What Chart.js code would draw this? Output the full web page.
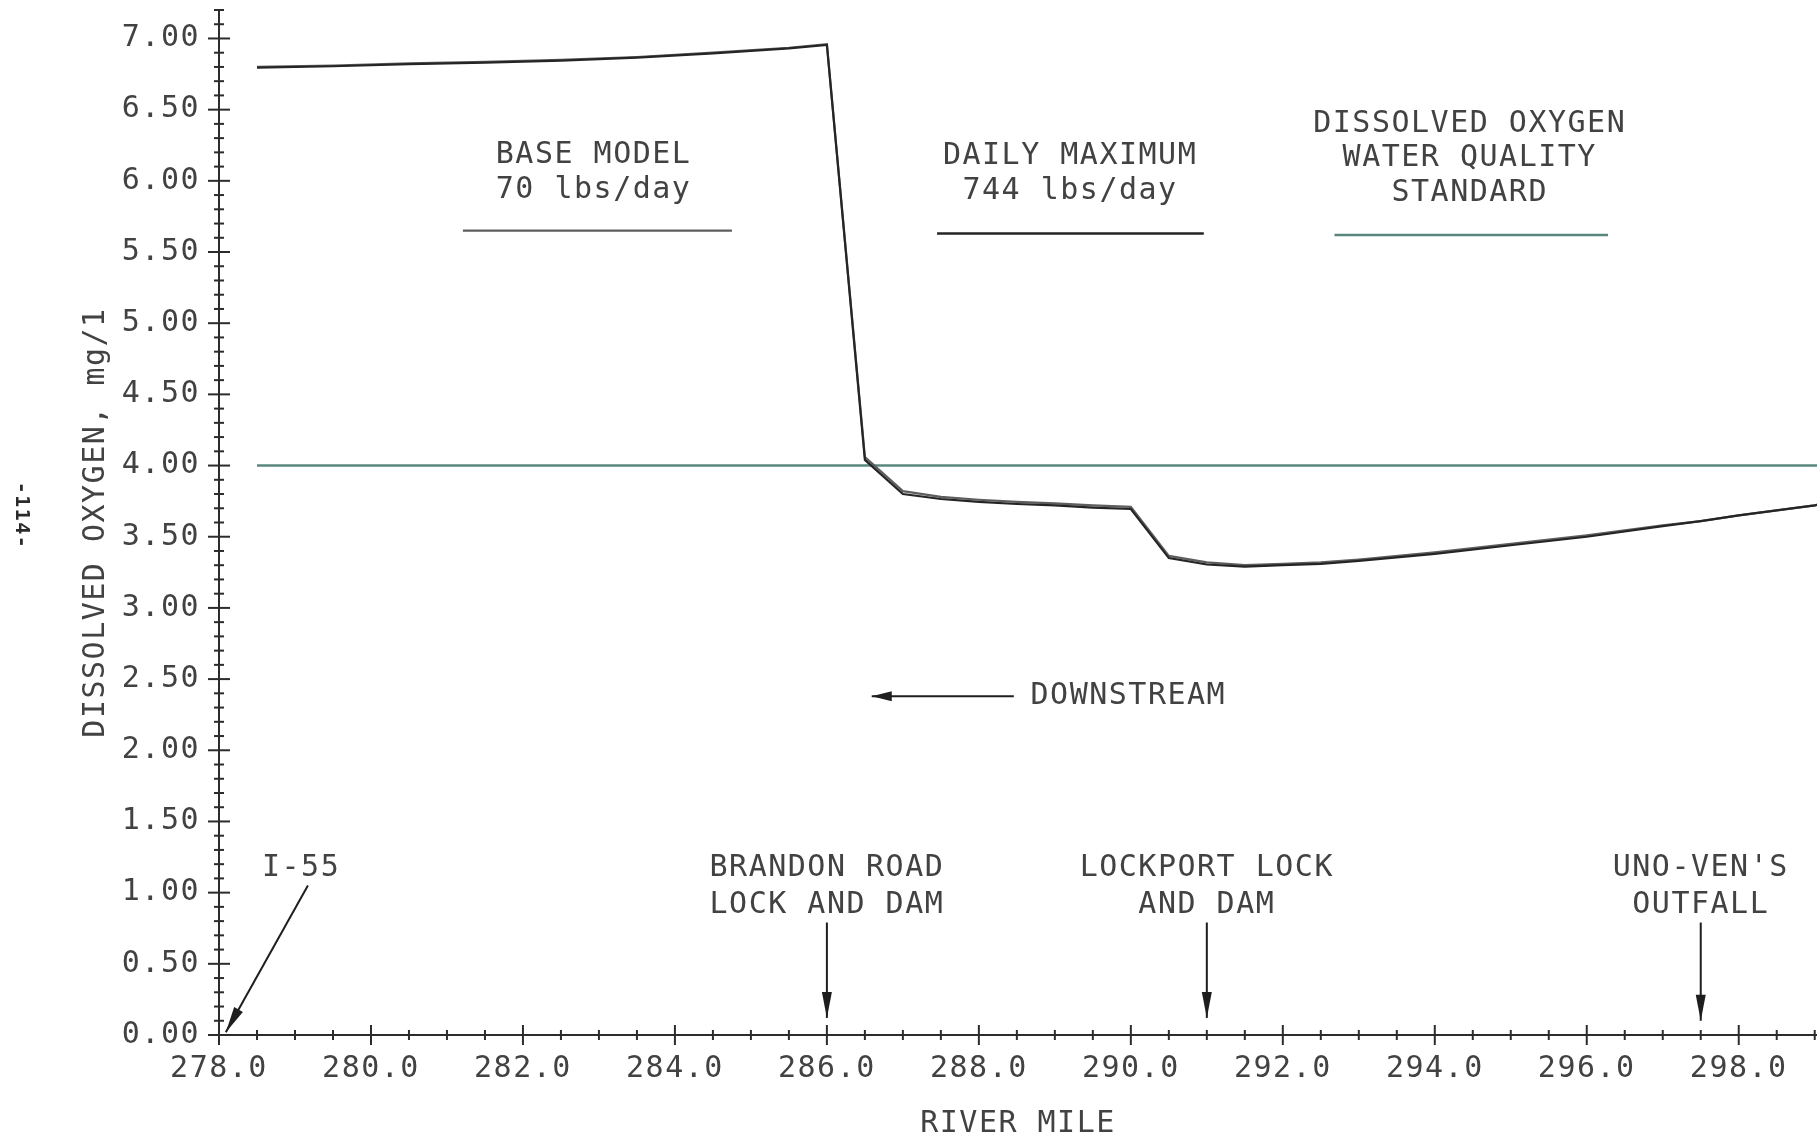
<!DOCTYPE html>
<html>
<head>
<meta charset="utf-8">
<title>Dissolved oxygen profile, river miles 278-299</title>
<script src="https://cdn.jsdelivr.net/npm/chart.js@4.4.1/dist/chart.umd.min.js"></script>
<style>
  html, body { margin: 0; padding: 0; background: #ffffff; }
  #wrap { width: 1817px; height: 1142px; position: relative; }
  canvas { display: block; }
</style>
</head>
<body>
<div id="wrap"><canvas id="chart" width="1817" height="1142"></canvas></div>
<script>
// ---- Data: river mile stations and modelled dissolved oxygen (mg/l) ----
const riverMile = [278.5, 279.5, 280.5, 281.5, 282.5, 283.5, 284.5, 285.5, 286.0, 286.5,
                   287.0, 287.5, 288.0, 288.5, 289.0, 289.5, 290.0, 290.5, 291.0, 291.5,
                   292.0, 292.5, 293.0, 294.0, 295.0, 296.0, 297.0, 297.5, 298.0, 299.0, 299.1];
const baseModelDO = [6.80, 6.81, 6.825, 6.835, 6.85, 6.87, 6.90, 6.935, 6.96, 4.06,
                     3.82, 3.78, 3.76, 3.745, 3.735, 3.72, 3.71, 3.365, 3.32, 3.30,
                     3.31, 3.32, 3.34, 3.39, 3.45, 3.51, 3.58, 3.61, 3.65, 3.72, 3.73];
const dailyMaxDO  = [6.795, 6.805, 6.82, 6.83, 6.845, 6.865, 6.895, 6.93, 6.955, 4.04,
                     3.80, 3.765, 3.745, 3.73, 3.72, 3.705, 3.695, 3.35, 3.305, 3.29,
                     3.30, 3.31, 3.33, 3.38, 3.44, 3.50, 3.575, 3.61, 3.65, 3.72, 3.73];
const standardMile = [278.5, 299.1];
const standardDO   = [4.00, 4.00];

// Axis ranges and tick steps
const xRange = [278, 299.03];
const yRange = [0, 7.2];
const xLabelStep = 2, xMinorStep = 0.5;
const yLabelStep = 0.5, yMinorStep = 0.1;

// Legend blocks: text lines, centre mile, first-line DO, sample line span and level
const legendText  = [['BASE MODEL', '70 lbs/day'],
                     ['DAILY MAXIMUM', '744 lbs/day'],
                     ['DISSOLVED OXYGEN', 'WATER QUALITY', 'STANDARD']];
const legendMile  = [282.93, 289.2, 294.46];
const legendDO    = [6.18, 6.17, 6.40];
const legendLine  = [[281.21, 284.75, 5.65], [287.45, 290.96, 5.63], [292.68, 296.28, 5.62]];

// Landmarks along the river, with arrows pointing at the axis
const landmarkText = [['I-55'], ['BRANDON ROAD', 'LOCK AND DAM'], ['LOCKPORT LOCK', 'AND DAM'], ["UNO-VEN'S", 'OUTFALL']];
const landmarkMile = [279.08, 286.0, 291.0, 297.5];
const landmarkDO   = [1.175, 1.17, 1.17, 1.17];
const landmarkArrow = [[279.17, 1.05, 278.09, 0.02], [286.0, 0.79, 286.0, 0.12],
                       [291.0, 0.79, 291.0, 0.12], [297.5, 0.79, 297.5, 0.10]];

// Flow direction note
const flowText = 'DOWNSTREAM';
const flowArrow = [288.46, 286.59, 2.38];
const flowTextMile = 288.68;

const pageNumber = '-114-';

// ---- Styling ----
const FONT = '"DejaVu Sans Mono", "Liberation Mono", monospace';
const INK = '#424242';
const AXIS = '#2c2c2c';
const COLORS = { base: '#5e5e5e', daily: '#252525', standard: '#58877d' };

function pts(xs, ys) { return xs.map((x, i) => ({ x: x, y: ys[i] })); }

function arrow(ctx, x1, y1, x2, y2, len, half) {
  ctx.beginPath(); ctx.moveTo(x1, y1); ctx.lineTo(x2, y2); ctx.stroke();
  const a = Math.atan2(y2 - y1, x2 - x1);
  ctx.beginPath();
  ctx.moveTo(x2, y2);
  ctx.lineTo(x2 - len * Math.cos(a) + half * Math.sin(a), y2 - len * Math.sin(a) - half * Math.cos(a));
  ctx.lineTo(x2 - len * Math.cos(a) - half * Math.sin(a), y2 - len * Math.sin(a) + half * Math.cos(a));
  ctx.closePath(); ctx.fill();
}

// Plotter-style axes (ticks crossing the axis lines), legend and labels
const plotterPlugin = {
  id: 'plotter',
  beforeDraw(chart) { chart.ctx.letterSpacing = '1.5px'; },
  afterDraw(chart) {
    const ctx = chart.ctx, xs = chart.scales.x, ys = chart.scales.y;
    const x0 = xs.getPixelForValue(xRange[0]);
    const y0 = ys.getPixelForValue(0);
    ctx.save();
    ctx.strokeStyle = AXIS; ctx.fillStyle = AXIS; ctx.lineWidth = 2;

    // x-axis ticks
    const nx = Math.round((xRange[1] - xRange[0]) / xMinorStep);
    for (let i = 0; i <= nx; i++) {
      const v = xRange[0] + i * xMinorStep;
      const px = xs.getPixelForValue(v);
      const major = Math.abs(v / xLabelStep - Math.round(v / xLabelStep)) < 1e-6;
      const h = major ? 10 : 5;
      ctx.beginPath(); ctx.moveTo(px, y0 - h); ctx.lineTo(px, y0 + h); ctx.stroke();
    }
    // y-axis ticks
    const ny = Math.round((yRange[1] - yRange[0]) / yMinorStep);
    for (let i = 0; i <= ny; i++) {
      const v = yRange[0] + i * yMinorStep;
      const py = ys.getPixelForValue(v);
      const major = Math.abs(v / yLabelStep - Math.round(v / yLabelStep)) < 1e-6;
      const h = major ? 11 : 5;
      ctx.beginPath(); ctx.moveTo(x0 - h, py); ctx.lineTo(x0 + h, py); ctx.stroke();
    }

    ctx.font = '30px ' + FONT;
    ctx.fillStyle = INK;
    ctx.textAlign = 'center';
    ctx.textBaseline = 'middle';

    // legend blocks
    const legendColors = [COLORS.base, COLORS.daily, COLORS.standard];
    legendText.forEach((lines, k) => {
      const cx = xs.getPixelForValue(legendMile[k]);
      const cy = ys.getPixelForValue(legendDO[k]);
      ctx.fillStyle = INK;
      lines.forEach((t, j) => ctx.fillText(t, cx, cy + j * 34.5));
      const [a, b, lv] = legendLine[k];
      ctx.strokeStyle = legendColors[k]; ctx.lineWidth = 2.4;
      ctx.beginPath();
      ctx.moveTo(xs.getPixelForValue(a), ys.getPixelForValue(lv));
      ctx.lineTo(xs.getPixelForValue(b), ys.getPixelForValue(lv));
      ctx.stroke();
    });

    // landmarks
    landmarkText.forEach((lines, k) => {
      const cx = xs.getPixelForValue(landmarkMile[k]);
      const cy = ys.getPixelForValue(landmarkDO[k]);
      ctx.fillStyle = INK;
      lines.forEach((t, j) => ctx.fillText(t, cx, cy + j * 37));
      const [ax1, ay1, ax2, ay2] = landmarkArrow[k];
      ctx.strokeStyle = '#1e1e1e'; ctx.fillStyle = '#1e1e1e'; ctx.lineWidth = 2;
      arrow(ctx, xs.getPixelForValue(ax1), ys.getPixelForValue(ay1),
                 xs.getPixelForValue(ax2), ys.getPixelForValue(ay2), 26, 5);
    });

    // downstream direction
    const fy = ys.getPixelForValue(flowArrow[2]);
    ctx.strokeStyle = '#1e1e1e'; ctx.fillStyle = '#1e1e1e'; ctx.lineWidth = 2;
    arrow(ctx, xs.getPixelForValue(flowArrow[0]), fy, xs.getPixelForValue(flowArrow[1]), fy, 20, 5);
    ctx.fillStyle = INK; ctx.textAlign = 'left';
    ctx.fillText(flowText, xs.getPixelForValue(flowTextMile), fy);

    // page number along the binding edge
    ctx.save();
    ctx.translate(21, (ys.top + ys.bottom) / 2 - 7);
    ctx.rotate(Math.PI / 2);
    ctx.font = 'bold 20px ' + FONT;
    ctx.fillStyle = '#2a2a2a';
    ctx.textAlign = 'center';
    ctx.fillText(pageNumber, 0, 0);
    ctx.restore();

    ctx.restore();
  }
};

const tickFont = { family: FONT, size: 30 };

new Chart(document.getElementById('chart').getContext('2d'), {
  type: 'scatter',
  data: {
    datasets: [
      { label: 'BASE MODEL 70 lbs/day', data: pts(riverMile, baseModelDO), showLine: true,
        borderColor: COLORS.base, borderWidth: 2.2, pointRadius: 0, tension: 0, order: 2 },
      { label: 'DAILY MAXIMUM 744 lbs/day', data: pts(riverMile, dailyMaxDO), showLine: true,
        borderColor: COLORS.daily, borderWidth: 2.2, pointRadius: 0, tension: 0, order: 1 },
      { label: 'DISSOLVED OXYGEN WATER QUALITY STANDARD', data: pts(standardMile, standardDO), showLine: true,
        borderColor: COLORS.standard, borderWidth: 2.4, pointRadius: 0, tension: 0, order: 3 }
    ]
  },
  options: {
    responsive: false,
    animation: false,
    events: [],
    layout: { padding: { top: 10, right: 0, bottom: 0, left: 0 } },
    plugins: { legend: { display: false }, tooltip: { enabled: false } },
    scales: {
      x: {
        type: 'linear', min: xRange[0], max: xRange[1],
        afterFit(s) { s.height = 107; s.paddingLeft = 0; s.paddingRight = 0; },
        grid: { display: false, drawTicks: false },
        border: { display: true, color: AXIS, width: 2 },
        ticks: { stepSize: xLabelStep, includeBounds: false, autoSkip: false, maxRotation: 0,
                 padding: 16, color: INK, font: tickFont, callback: v => Number(v).toFixed(1) },
        title: { display: true, text: 'RIVER MILE', color: INK, font: tickFont, padding: 0 }
      },
      y: {
        type: 'linear', min: yRange[0], max: yRange[1],
        afterFit(s) { s.width = 219; s.paddingTop = 0; s.paddingBottom = 0; },
        grid: { display: false, drawTicks: false },
        border: { display: true, color: AXIS, width: 2 },
        ticks: { stepSize: yLabelStep, includeBounds: false, padding: 19, color: INK,
                 font: tickFont, callback: v => Number(v).toFixed(2) },
        title: { display: true, text: 'DISSOLVED OXYGEN, mg/1', color: INK, font: tickFont,
                 padding: { top: 78, bottom: 0 } }
      }
    }
  },
  plugins: [plotterPlugin]
});
</script>
</body>
</html>
